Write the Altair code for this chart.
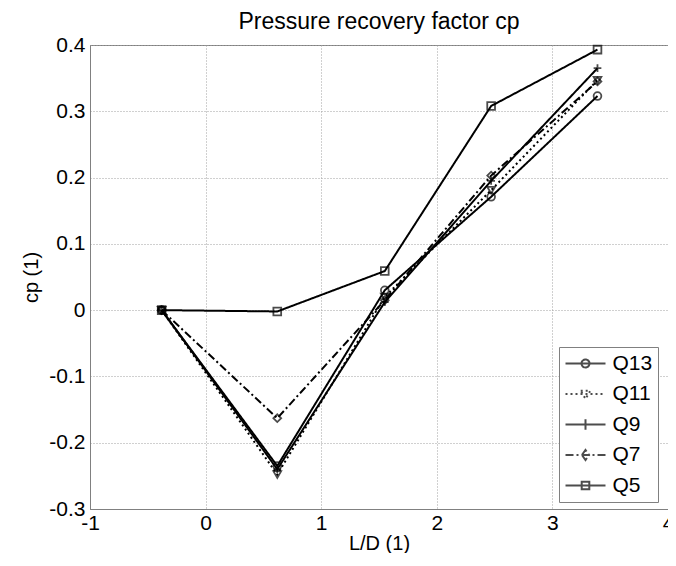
import altair as alt
import pandas as pd

ld_values = [-0.38, 0.62, 1.55, 2.47, 3.39]
series_names = ["Q13", "Q11", "Q9", "Q7", "Q5"]
q13 = [0.0, -0.235, 0.030, 0.171, 0.323]
q11 = [0.0, -0.248, 0.020, 0.181, 0.347]
q9 = [0.0, -0.240, 0.012, 0.195, 0.365]
q7 = [0.0, -0.163, 0.015, 0.203, 0.345]
q5 = [0.0, -0.002, 0.059, 0.308, 0.393]
x_ticks = [-1, 0, 1, 2, 3, 4]
y_ticks = [-0.3, -0.2, -0.1, 0, 0.1, 0.2, 0.3, 0.4]

rows = []
for name, vals in zip(series_names, [q13, q11, q9, q7, q5]):
    for x, y in zip(ld_values, vals):
        rows.append({"L/D": x, "cp": y, "series": name})
df = pd.DataFrame(rows)

dashes = [[1, 0], [2, 3], [1, 0], [8, 3, 2, 3], [1, 0]]
shapes = ["circle", "triangle-down", "M-1,0L1,0M0,-1L0,1", "diamond", "square"]
legend_paths = [
    "M-1,0L1,0M0.2,0A0.2,0.2 0 1 1 -0.2,0A0.2,0.2 0 1 1 0.2,0",
    "M-1,0L1,0M-0.24,-0.16L0.24,-0.16L0,0.24Z",
    "M-1,0L1,0M0,-0.26L0,0.26",
    "M-1,0L1,0M-0.18,0L0,-0.25L0.18,0L0,0.25Z",
    "M-1,0L1,0M-0.19,-0.19L0.19,-0.19L0.19,0.19L-0.19,0.19Z",
]

MINUS_FIX = "replace(datum.label, '\u2212', '-')"

x_enc = alt.X(
    "L/D:Q",
    scale=alt.Scale(domain=[-1, 4], nice=False),
    axis=alt.Axis(values=x_ticks, title="L/D (1)", format="d", labelExpr=MINUS_FIX),
)
y_enc = alt.Y(
    "cp:Q",
    scale=alt.Scale(domain=[-0.3, 0.4], nice=False),
    axis=alt.Axis(
        values=y_ticks,
        title="cp (1)",
        labelExpr="datum.value == 0 ? '0' : replace(format(datum.value, '.1f'), '\u2212', '-')",
    ),
)

lines = alt.Chart(df).mark_line(color="black", strokeWidth=2).encode(
    x=x_enc,
    y=y_enc,
    strokeDash=alt.StrokeDash(
        "series:N",
        scale=alt.Scale(domain=series_names, range=dashes),
        legend=None,
    ),
)

points = alt.Chart(df).mark_point(
    filled=False, color="black", strokeWidth=1.8, size=60
).encode(
    x=x_enc,
    y=y_enc,
    shape=alt.Shape(
        "series:N",
        scale=alt.Scale(domain=series_names, range=shapes),
        legend=None,
    ),
)

legend_kw = dict(
    title=None,
    orient="none",
    legendX=469,
    legendY=302,
    symbolSize=1600,
    symbolStrokeWidth=2,
    symbolStrokeColor="black",
    labelFontSize=21,
    labelFont="Liberation Sans",
    labelColor="black",
    labelOffset=6,
    labelExpr="datum.label + '\u00a0\u00a0'",
    clipHeight=22,
    rowPadding=8.5,
    padding=5.5,
    strokeColor="#808080",
    fillColor="white",
)

legend_layer = (
    alt.Chart(df)
    .transform_filter("false")
    .mark_point(filled=False, color="black", strokeWidth=2)
    .encode(
        x=x_enc,
        y=y_enc,
        shape=alt.Shape(
            "series:N",
            scale=alt.Scale(domain=series_names, range=legend_paths),
            legend=alt.Legend(**legend_kw),
        ),
        strokeDash=alt.StrokeDash(
            "series:N",
            scale=alt.Scale(domain=series_names, range=dashes),
            legend=alt.Legend(**legend_kw),
        ),
    )
)

chart = (
    alt.layer(lines, points, legend_layer)
    .resolve_scale(shape="independent", strokeDash="independent")
    .properties(
        width=578,
        height=464,
        title=alt.TitleParams(
            "Pressure recovery factor cp",
            fontSize=23,
            font="Liberation Sans",
            fontWeight="normal",
            color="black",
            offset=0,
        ),
        autosize=alt.AutoSizeParams(type="none"),
        padding={"left": 82, "top": 37, "right": 0, "bottom": 44},
    )
    .configure_view(stroke="#808080", strokeWidth=1)
    .configure_axis(
        domainColor="#808080",
        tickSize=0,
        labelFlush=False,
        labelFont="Liberation Sans",
        labelFontSize=21,
        labelColor="black",
        titleFont="Liberation Sans",
        titleFontSize=20,
        titleFontWeight="normal",
        titleColor="black",
        gridColor="#a0a0a0",
        gridDash=[1, 2],
        gridWidth=1,
    )
    .configure_axisX(titlePadding=0, labelPadding=3)
    .configure_axisY(titlePadding=7, labelPadding=5)
)

chart.save("out.html", embed_options={"renderer": "svg", "actions": False})
